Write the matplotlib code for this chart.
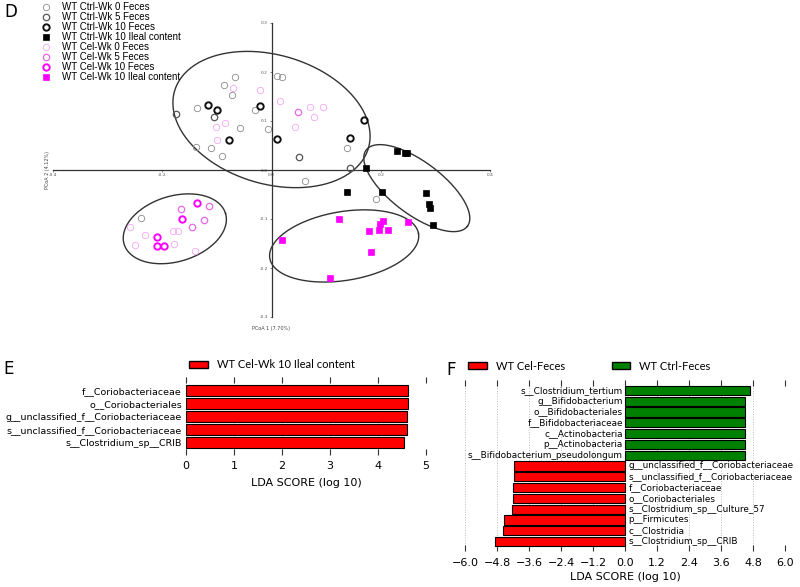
import numpy as np
import matplotlib
matplotlib.use('Agg')
import matplotlib.pyplot as plt
from matplotlib.lines import Line2D
from matplotlib.patches import Patch

plt.rcParams['font.family'] = ['DejaVu Sans']

# Panel D: PCoA scores
ctrl_wk0_x = [-0.067, -0.087, -0.072, 0.010, 0.020, -0.136, -0.030, -0.058, -0.007, -0.139, -0.111, -0.090, 0.139, 0.061, 0.191, -0.238]
ctrl_wk0_y = [0.189, 0.173, 0.154, 0.192, 0.189, 0.127, 0.122, 0.085, 0.084, 0.046, 0.045, 0.029, 0.044, -0.022, -0.059, -0.097]
ctrl_wk5_x = [-0.106, -0.175, 0.051, 0.143]
ctrl_wk5_y = [0.109, 0.114, 0.027, 0.005]
ctrl_wk10_x = [-0.116, -0.100, -0.078, 0.010, -0.021, 0.169, 0.144]
ctrl_wk10_y = [0.133, 0.122, 0.061, 0.063, 0.131, 0.102, 0.065]
ctrl_ileal_x = [0.229, 0.244, 0.248, 0.173, 0.139, 0.202, 0.283, 0.288, 0.291, 0.296]
ctrl_ileal_y = [0.039, 0.034, 0.035, 0.005, -0.044, -0.044, -0.046, -0.069, -0.078, -0.112]
cel_wk0_x = [-0.070, -0.021, 0.016, 0.070, 0.095, 0.078, 0.043, -0.102, -0.086, -0.100, -0.259, -0.250, -0.232, -0.180, -0.172, -0.179, -0.140]
cel_wk0_y = [0.167, 0.163, 0.141, 0.129, 0.128, 0.109, 0.087, 0.087, 0.096, 0.061, -0.117, -0.154, -0.133, -0.125, -0.125, -0.150, -0.165]
cel_wk5_x = [0.048, -0.123, -0.114, -0.145, -0.166]
cel_wk5_y = [0.118, -0.102, -0.073, -0.116, -0.080]
cel_wk10_x = [-0.163, -0.136, -0.210, -0.210, -0.196]
cel_wk10_y = [-0.101, -0.067, -0.137, -0.156, -0.155]
cel_ileal_x = [0.124, 0.020, 0.179, 0.196, 0.214, 0.198, 0.204, 0.249, 0.182, 0.108]
cel_ileal_y = [-0.100, -0.142, -0.124, -0.123, -0.123, -0.110, -0.105, -0.107, -0.168, -0.221]

group_names = ['WT Ctrl-Wk 0 Feces', 'WT Ctrl-Wk 5 Feces', 'WT Ctrl-Wk 10 Feces',
               'WT Ctrl-Wk 10 Ileal content', 'WT Cel-Wk 0 Feces', 'WT Cel-Wk 5 Feces',
               'WT Cel-Wk 10 Feces', 'WT Cel-Wk 10 Ileal content']

# confidence ellipses: centre, semi-axes (x units), angle
ell_cx = [0.0, 0.266, 0.133, -0.177]
ell_cy = [0.103, -0.037, -0.155, -0.120]
ell_a = [0.185, 0.116, 0.138, 0.097]
ell_b = [0.118, 0.048, 0.063, 0.060]
ell_angle = [-16.5, -37, 9.4, 16.9]

pcoa_xticks = [-0.4, -0.2, 0.0, 0.2, 0.4]
pcoa_yticks = [-0.3, -0.2, -0.1, 0.0, 0.1, 0.2, 0.3]

# Panel E: LEfSe
e_labels = ['f__Coriobacteriaceae', 'o__Coriobacteriales', 'g__unclassified_f__Coriobacteriaceae',
            's__unclassified_f__Coriobacteriaceae', 's__Clostridium_sp__CRIB']
e_scores = [4.63, 4.63, 4.61, 4.61, 4.55]
e_ticks = [0, 1, 2, 3, 4, 5]

# Panel F: LEfSe
f_labels = ['s__Clostridium_tertium', 'g__Bifidobacterium', 'o__Bifidobacteriales',
            'f__Bifidobacteriaceae', 'c__Actinobacteria', 'p__Actinobacteria',
            's__Bifidobacterium_pseudolongum', 'g__unclassified_f__Coriobacteriaceae',
            's__unclassified_f__Coriobacteriaceae', 'f__Coriobacteriaceae', 'o__Coriobacteriales',
            's__Clostridium_sp__Culture_57', 'p__Firmicutes', 'c__Clostridia', 's__Clostridium_sp__CRIB']
f_scores = [4.70, 4.51, 4.51, 4.51, 4.51, 4.51, 4.49,
            -4.16, -4.16, -4.19, -4.19, -4.24, -4.54, -4.56, -4.89]
f_ticks = [-6.0, -4.8, -3.6, -2.4, -1.2, 0.0, 1.2, 2.4, 3.6, 4.8, 6.0]

W, H = 800, 587
fig = plt.figure(figsize=(W / 100, H / 100), dpi=100)

# ---------------- D ----------------
ax = fig.add_axes([53 / W, 1 - 317 / H, 437 / W, 294 / H])
ax.set_xlim(-0.4, 0.4)
ax.set_ylim(-0.3, 0.3)
for s in ['top', 'right']:
    ax.spines[s].set_visible(False)
ax.spines['left'].set_position('zero')
ax.spines['bottom'].set_position('zero')
for s in ['left', 'bottom']:
    ax.spines[s].set_color('#333333')
    ax.spines[s].set_linewidth(0.9)
ax.set_xticks(pcoa_xticks)
ax.set_xticklabels(['%.1f' % v for v in pcoa_xticks])
ax.set_yticks(pcoa_yticks)
ax.set_yticklabels(['%.1f' % v for v in pcoa_yticks])
ax.tick_params(labelsize=3.2, length=1.5, width=0.5, colors='#555555', pad=1)
ax.patch.set_alpha(0)

styles = [
    dict(marker='o', color='#8a8a8a', mfc='none', mew=0.6, ms=4.6),
    dict(marker='o', color='#555555', mfc='none', mew=0.9, ms=4.6),
    dict(marker='o', color='#111111', mfc='none', mew=1.4, ms=4.6),
    dict(marker='s', color='#000000', mfc='#000000', mew=0.5, ms=4.4),
    dict(marker='o', color='#f2a6f2', mfc='none', mew=0.6, ms=4.6),
    dict(marker='o', color='#e66be6', mfc='none', mew=0.9, ms=4.6),
    dict(marker='o', color='#ff00ff', mfc='none', mew=1.4, ms=4.6),
    dict(marker='s', color='#ff00ff', mfc='#ff00ff', mew=0.5, ms=4.4),
]
xs = [ctrl_wk0_x, ctrl_wk5_x, ctrl_wk10_x, ctrl_ileal_x, cel_wk0_x, cel_wk5_x, cel_wk10_x, cel_ileal_x]
ys = [ctrl_wk0_y, ctrl_wk5_y, ctrl_wk10_y, ctrl_ileal_y, cel_wk0_y, cel_wk5_y, cel_wk10_y, cel_ileal_y]
handles = []
for name, x, y, st in zip(group_names, xs, ys, styles):
    ax.plot(x, y, linestyle='none', zorder=3, **st)
    handles.append(Line2D([], [], linestyle='none', label=name, **st))

# ellipses drawn so they look round on screen
bb = ax.get_position()
k = (bb.width * W / 0.8) / (bb.height * H / 0.6)
t = np.linspace(0, 2 * np.pi, 200)
for cx, cy, a, b, ang in zip(ell_cx, ell_cy, ell_a, ell_b, ell_angle):
    th = np.radians(ang)
    ex = cx + a * np.cos(th) * np.cos(t) - b * np.sin(th) * np.sin(t)
    ey = cy + k * (a * np.sin(th) * np.cos(t) + b * np.cos(th) * np.sin(t))
    ax.plot(ex, ey, color='#333333', lw=1.0, zorder=2)

ax.text(0.5, -0.04, 'PCoA 1 (7.70%)', transform=ax.transAxes, ha='center', va='center',
        fontsize=3.5, color='#444444')
ax.text(-0.012, 0.5, 'PCoA 2 (4.12%)', transform=ax.transAxes, ha='center', va='center',
        rotation=90, fontsize=3.5, color='#444444')

fig.legend(handles=handles, loc='upper left', bbox_to_anchor=(41 / W, 1 - 2 / H),
           frameon=False, prop={'family': 'Liberation Sans', 'size': 7},
           handlelength=1.0, handletextpad=1.2, labelspacing=0.0,
           borderpad=0, borderaxespad=0)

# ---------------- E ----------------
axe = fig.add_axes([186 / W, 1 - 455 / H, 240 / W, 78 / H])
ye = np.arange(len(e_labels))[::-1]
axe.barh(ye, e_scores, height=0.85, color='#ff0000', edgecolor='black', linewidth=0.8, zorder=2)
axe.set_xlim(0, 5)
axe.set_ylim(-0.96, 5.04)
axe.set_yticks(ye)
axe.set_yticklabels(e_labels, fontsize=6.8)
axe.set_xticks(e_ticks)
axe.set_xticklabels([str(v) for v in e_ticks], fontsize=8)
axe.tick_params(axis='y', length=0, pad=3)
axe.tick_params(axis='x', top=True, direction='in', length=4, width=0.8, color='#333333', pad=4)
for s in axe.spines.values():
    s.set_visible(False)
axe.grid(axis='x', linestyle=':', color='#bbbbbb', lw=0.7, zorder=0)
axe.set_xlabel('LDA SCORE (log 10)', fontsize=8, labelpad=5)
fig.legend(handles=[Patch(facecolor='#ff0000', edgecolor='black')],
           labels=['WT Cel-Wk 10 Ileal content'], loc='center left',
           bbox_to_anchor=(189 / W, 1 - 365 / H), frameon=False,
           prop={'family': 'Lato', 'size': 8}, handlelength=1.7, handleheight=0.6,
           handletextpad=0.8, borderpad=0, borderaxespad=0)

# ---------------- F ----------------
axf = fig.add_axes([465 / W, 1 - 551 / H, 320 / W, 171 / H])
yf = np.arange(len(f_labels))[::-1]
fcol = ['#008000' if v > 0 else '#ff0000' for v in f_scores]
axf.barh(yf, f_scores, height=0.85, color=fcol, edgecolor='black', linewidth=0.8, zorder=2)
for yy, v, lab in zip(yf, f_scores, f_labels):
    if v > 0:
        axf.annotate(lab, xy=(0, yy), xytext=(-1.5, 0), textcoords='offset points',
                     ha='right', va='center', fontsize=6.4)
    else:
        axf.annotate(lab, xy=(0, yy), xytext=(2.5, 0), textcoords='offset points',
                     ha='left', va='center', fontsize=6.4)
axf.set_xlim(-6, 6)
axf.set_ylim(-0.87, 14.96)
axf.set_yticks([])
axf.set_xticks(f_ticks)
axf.set_xticklabels([('%.1f' % v).replace('-', '\u2212') for v in f_ticks], fontsize=8)
axf.tick_params(axis='x', top=True, direction='in', length=4, width=0.8, color='#333333', pad=5)
for s in axf.spines.values():
    s.set_visible(False)
axf.grid(axis='x', linestyle=':', color='#bbbbbb', lw=0.7, zorder=0)
axf.set_xlabel('LDA SCORE (log 10)', fontsize=8, labelpad=3)
fig.legend(handles=[Patch(facecolor='#ff0000', edgecolor='black'),
                    Patch(facecolor='#008000', edgecolor='black')],
           labels=['WT Cel-Feces', 'WT Ctrl-Feces'], loc='center left', ncol=2,
           bbox_to_anchor=(468 / W, 1 - 366 / H), frameon=False,
           prop={'family': 'Lato', 'size': 8}, handlelength=1.7, handleheight=0.6,
           handletextpad=0.8, columnspacing=4.2, borderpad=0, borderaxespad=0)

# panel letters
fig.text(4 / W, 1 - 12 / H, 'D', fontsize=12, va='center', ha='left')
fig.text(3 / W, 1 - 369 / H, 'E', fontsize=12, va='center', ha='left')
fig.text(446 / W, 1 - 370 / H, 'F', fontsize=12, va='center', ha='left')

fig.savefig('out.png', dpi=100)
